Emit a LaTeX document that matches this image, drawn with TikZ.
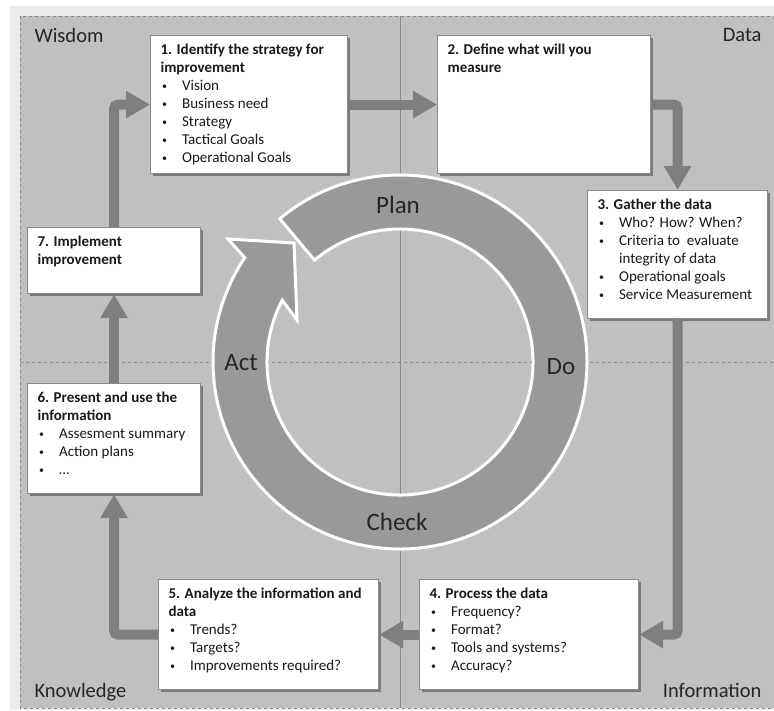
\documentclass[tikz,border=0pt]{standalone}
\usepackage{fontspec}
\setmainfont{Carlito}
\usepackage{xcolor}
\usepackage{tikz}
\usetikzlibrary{arrows.meta,shadows,backgrounds}
\definecolor{framegray}{HTML}{EBEBEB}
\definecolor{panelgray}{HTML}{C0C0C0}
\definecolor{ringgray}{HTML}{999999}
\definecolor{flowgray}{HTML}{7F7F7F}
\definecolor{linegray}{HTML}{8A8A8A}
\tikzstyle{stepbox} = [draw=linegray, line width=1.2pt, fill=white, anchor=north west, inner xsep=10pt, inner ysep=5pt, font=\fontsize{15}{18}\selectfont, text=black!90, drop shadow={shadow xshift=2.5pt, shadow yshift=-2.5pt, fill=black, opacity=0.35}]
\tikzstyle{flow} = [draw=flowgray, line width=10pt, rounded corners=4pt, -{Triangle[width=26pt,length=24pt]}]
\tikzstyle{quad} = [font=\fontsize{20.5}{24}\selectfont, text=black!85]
\tikzstyle{pdca} = [font=\fontsize{25}{30}\selectfont, text=black!85, anchor=base]
\newcommand{\stepcontent}[3]{\parbox[c][#2][t]{#1}{\raggedright\rule{0pt}{14pt}#3}}
\newcommand{\itm}[1]{\makebox[21.5pt][l]{\hspace{1.5pt}\raisebox{1pt}{\fontsize{10}{12}\selectfont\textbullet}}#1}

\begin{document}
\begin{tikzpicture}[x=1pt,y=-1pt]
		\useasboundingbox (0,0) rectangle (774,710);
		\fill[white] (0,0) rectangle (774,710);
		\fill[framegray] (10,6) rectangle (774,710); % outer frame
		\fill[panelgray] (20,16) rectangle (774,708); % panel
		\draw[linegray, dashed, line width=0.6pt] (20,16) rectangle (774,708);
		
		\draw[linegray, line width=0.7pt] (400,16) -- (400,708); % vertical divide
		\draw[linegray, dashed, line width=0.6pt] (20,362) -- (774,362); % horizontal divide
		
		\node[quad, anchor=base west] (wisdom) at (31,42) {Wisdom};
		\node[quad, anchor=base east] (data) at (765,41) {Data};
		\node[quad, anchor=base west] (knowledge) at (31,697) {Knowledge};
		\node[quad, anchor=base east] (information) at (765,697) {Information};
		
		% PDCA ring
		\coordinate (ctr) at (400,362);
		\begin{scope}[shift={(ctr)}]
			\filldraw[fill=ringgray, draw=white, line width=3pt, line join=miter]
			(130:187pt) arc[start angle=130, end angle=-213.9, radius=187pt]
			-- (-172pt,123pt) -- (-106pt,119pt) -- (-103pt,42pt) -- (152.3:133pt)
			arc[start angle=-207.7, end angle=130, radius=133pt] -- cycle;
		\end{scope}
		\node[pdca] (plan) at (398,213) {Plan};
		\node[pdca] (do) at (561,374) {Do};
		\node[pdca] (check) at (397,530) {Check};
		\node[pdca] (act) at (241,370) {Act};
		
		% steps
		\node[stepbox] (identify) at (150,35) {\stepcontent{177pt}{128pt}{\textbf{1. Identify the strategy for\\ improvement}\\
				\itm{Vision}\\ \itm{Business need}\\ \itm{Strategy}\\ \itm{Tactical Goals}\\ \itm{Operational Goals}}};
		\node[stepbox] (define) at (437,35) {\stepcontent{193pt}{128pt}{\textbf{2. Define what will you\\ measure}}};
		\node[stepbox] (gather) at (587,190) {\stepcontent{160pt}{118pt}{\textbf{3. Gather the data}\\
				\itm{Who? How? When?}\\ \itm{Criteria to\ \ evaluate}\\ \hspace*{21.5pt}integrity of data\\ \itm{Operational goals}\\ \itm{Service Measurement}}};
		\node[stepbox] (process) at (419,579) {\stepcontent{199pt}{100pt}{\textbf{4. Process the data}\\
				\itm{Frequency?}\\ \itm{Format?}\\ \itm{Tools and systems?}\\ \itm{Accuracy?}}};
		\node[stepbox] (analyze) at (158,579) {\stepcontent{200pt}{100pt}{\textbf{5. Analyze the information and\\ data}\\
				\itm{Trends?}\\ \itm{Targets?}\\ \itm{Improvements required?}}};
		\node[stepbox] (present) at (27,383) {\stepcontent{153pt}{100pt}{\textbf{6. Present and use the\\ information}\\
				\itm{Assesment summary}\\ \itm{Action plans}\\ \itm{\dots}}};
		\node[stepbox] (implement) at (27,227) {\stepcontent{153pt}{56pt}{\textbf{7. Implement\\ improvement}}};
		
		% cycle arrows
		\draw[flow] (identify) -- (define);
		\draw[flow] (define) -| (gather);
		\draw[flow] (gather) |- (process);
		\draw[flow] (process) -- (analyze);
		\draw[flow] (analyze) -| (present);
		\draw[flow] (present) -- (implement);
		\draw[flow] (implement) |- (identify);
		
\end{tikzpicture}
\end{document}
